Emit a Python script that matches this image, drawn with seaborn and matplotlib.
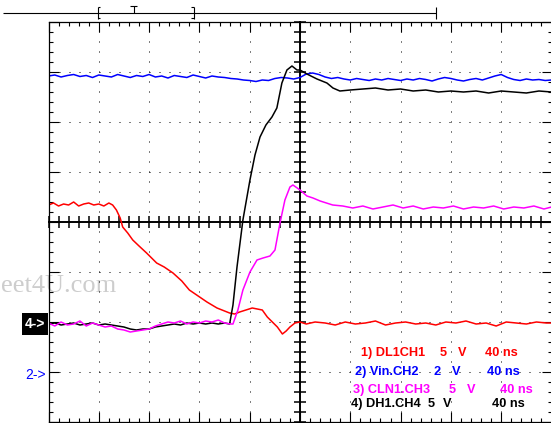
import numpy as np
import pandas as pd
import matplotlib
matplotlib.use("Agg")
import matplotlib.pyplot as plt
import seaborn as sns
from matplotlib.lines import Line2D
from matplotlib.patches import Rectangle
from matplotlib.ticker import MultipleLocator

# ---------------- data (time in ns from left edge, values in volts) ----------------
ch1_t = [0, 4, 8, 12, 16, 20, 24, 28, 32, 36, 40, 44, 48, 51, 54,
         57, 59, 63, 67, 72, 78, 86, 92, 99, 106, 112, 119, 126, 134, 140, 144,
         148, 152, 157, 162, 166, 170, 174, 178, 182, 186, 189, 192, 196, 200,
         205, 212, 220, 228, 236, 244, 252, 260, 268, 276, 284, 292, 300, 308,
         316, 324, 332, 340, 348, 356, 364, 372, 380, 388, 396, 400]
ch1_v = [11.9, 12.1, 11.8, 12.0, 11.9, 12.2, 11.8, 12.0, 12.1, 11.9, 12.0, 11.8, 12.1, 11.9, 11.4,
         10.6, 9.7, 9.1, 8.4, 7.8, 7.1, 6.1, 5.7, 5.1, 4.3, 3.4, 2.8, 2.2, 1.6, 1.3, 1.1,
         1.0, 1.2, 1.4, 1.6, 1.5, 1.4, 0.7, 0.2, -0.3, -1.0, -0.7, -0.3, 0.1, 0.2,
         0.0, 0.2, 0.1, -0.1, 0.2, 0.0, 0.1, 0.3, -0.1, 0.1, 0.2, 0.0, 0.1, -0.1,
         0.2, 0.1, 0.3, 0.0, 0.1, -0.2, 0.2, 0.1, 0.0, 0.2, 0.1, 0.1]

ch2_t = [0, 5, 10, 15, 20, 25, 30, 35, 40, 45, 50, 55, 60, 65, 70, 75, 80, 85, 90, 95,
         100, 105, 110, 115, 120, 125, 130, 135, 140, 145, 150, 155, 160, 165, 170, 175,
         180, 185, 190, 195, 200, 205, 210, 215, 220, 225, 230, 235, 240, 245, 250, 255,
         260, 265, 270, 275, 280, 285, 290, 295, 300, 305, 310, 315, 320, 325, 330, 335,
         340, 345, 350, 355, 360, 365, 370, 375, 380, 385, 390, 395, 400]
ch2_v = [11.96, 12.0, 11.92, 11.98, 12.02, 11.94, 11.98, 11.9, 12.0, 11.96, 11.92, 12.02,
         11.96, 11.9, 11.98, 11.94, 12.02, 11.92, 11.96, 11.88, 11.98, 11.94, 11.9, 12.0,
         11.94, 11.88, 11.96, 11.92, 11.9, 11.86, 11.84, 11.8, 11.78, 11.74, 11.8, 11.78,
         11.86, 11.9, 11.88, 11.84, 11.9, 12.04, 12.08, 12.02, 11.92, 11.86, 11.9, 11.84,
         11.8, 11.86, 11.82, 11.78, 11.84, 11.8, 11.86, 11.82, 11.78, 11.84, 11.8, 11.86,
         11.82, 11.76, 11.84, 11.9, 11.86, 11.8, 11.76, 11.82, 11.86, 11.8, 11.88, 11.96,
         12.02, 11.9, 11.82, 11.78, 11.84, 11.8, 11.82, 11.78, 11.8]

ch3_t = [0, 5, 10, 15, 20, 25, 30, 35, 40, 45, 50, 55, 60, 65, 70, 75, 80, 85, 90, 95,
         100, 105, 110, 115, 120, 125, 130, 135, 140, 145, 146.7, 150.6, 154.6, 160.2,
         165.8, 170.6, 176.1, 180.1, 184.1, 188, 192, 194.4, 200, 205.5, 210.3, 216, 226,
         234, 242, 250, 258, 266, 274, 282, 290, 298, 306, 314, 322, 330, 338, 346, 354,
         362, 370, 378, 386, 394, 400]
ch3_v = [0.1, -0.2, 0.2, -0.1, 0.0, 0.3, -0.2, 0.1, -0.1, -0.3, -0.2, -0.5, -0.6, -0.8,
         -0.7, -0.6, -0.5, -0.2, 0.0, 0.2, 0.1, 0.3, 0.0, 0.2, 0.1, 0.3, 0.2, 0.4, 0.1, 0.0,
         0.0, 1.4, 3.4, 5.2, 6.4, 6.6, 6.8, 7.4, 10.1, 12.4, 13.7, 13.9, 13.4, 12.8, 12.6,
         12.3, 11.9, 11.8, 11.6, 11.8, 11.5, 11.7, 11.9, 11.6, 11.8, 11.5, 11.7, 11.6, 11.8,
         11.5, 11.7, 11.6, 11.8, 11.5, 11.7, 11.6, 11.8, 11.5, 11.7]

ch4_t = [0, 5, 10, 15, 20, 25, 30, 35, 40, 45, 50, 55, 60, 65, 70, 75, 80, 85, 90, 95,
         100, 105, 110, 115, 120, 125, 130, 135, 140, 144, 144.3, 146.7, 149.9, 154.6,
         160.2, 164.2, 168.2, 172.9, 177.7, 181.6, 185.6, 189.6, 193.6, 197.6, 200, 205.5,
         213.5, 221.4, 226.2, 231.7, 240, 250, 260, 270, 280, 290, 300, 310, 320, 330, 340,
         350, 360, 370, 380, 390, 400]
ch4_v = [0.0, 0.1, -0.1, 0.0, 0.1, -0.1, 0.0, 0.1, -0.1, 0.0, -0.1, -0.2, -0.3, -0.5,
         -0.6, -0.5, -0.5, -0.3, -0.2, -0.1, 0.0, -0.1, 0.1, 0.0, 0.1, 0.0, 0.1, 0.0, 0.1,
         0.0, 0.2, 1.9, 5.7, 10.4, 14.4, 16.9, 18.7, 19.9, 20.7, 21.6, 24.1, 25.4, 25.8,
         25.4, 25.4, 25.0, 24.5, 24.1, 23.6, 23.3, 23.4, 23.5, 23.6, 23.4, 23.5, 23.3, 23.4,
         23.2, 23.3, 23.2, 23.3, 23.1, 23.3, 23.2, 23.1, 23.3, 23.2]

ch_names = ["DL1CH1", "Vin.CH2", "CLN1.CH3", "DH1.CH4"]
ch_volts_per_div = [5, 2, 5, 5]
ch_ground_div = [-2.04, -3.06, -2.04, -2.04]
ch_colors = ["#ff0000", "#0000ff", "#ff00ff", "#000000"]
timebase_label = "40 ns"

# ---------------- figure ----------------
sns.set_style("white")
plt.rcParams["font.family"] = ["Liberation Sans", "DejaVu Sans"]

W_PX, H_PX = 551, 423
fig = plt.figure(figsize=(W_PX / 100, H_PX / 100), dpi=100)
fig.patch.set_facecolor("white")


def fx(px):
    return px / W_PX


def fy(py):
    return 1 - py / H_PX


L, R, T, B = 48.5, 551.5, 22, 422
pos = [fx(L), fy(B), (R - L) / W_PX, (B - T) / H_PX]

# graticule centre cross
ax2 = fig.add_axes(pos)
ax2.set_zorder(1)
ax2.patch.set_visible(False)
ax2.set_xlim(0, 400)
ax2.set_ylim(-4, 4)
ax2.spines["left"].set_position(("data", 200))
ax2.spines["bottom"].set_position(("data", 0))
ax2.spines["top"].set_visible(False)
ax2.spines["right"].set_visible(False)
for s in ("left", "bottom"):
    ax2.spines[s].set_linewidth(1.4)
    ax2.spines[s].set_color("black")
ax2.xaxis.set_major_locator(MultipleLocator(40))
ax2.xaxis.set_minor_locator(MultipleLocator(8))
ax2.yaxis.set_major_locator(MultipleLocator(1))
ax2.yaxis.set_minor_locator(MultipleLocator(0.2))
ax2.tick_params(which="both", direction="inout", length=8, width=1.1, color="black",
                labelbottom=False, labelleft=False, top=False, right=False,
                bottom=True, left=True)
ax2.grid(False)

# main axes with traces
ax = fig.add_axes(pos)
ax.set_zorder(2)
ax.patch.set_visible(False)

traces = [(ch1_t, ch1_v), (ch2_t, ch2_v), (ch4_t, ch4_v), (ch3_t, ch3_v)]
order = [0, 1, 3, 2]
for (t, v), idx in zip(traces, order):
    df = pd.DataFrame({"t": t, "v": v})
    df["div"] = df["v"] / ch_volts_per_div[idx] + ch_ground_div[idx]
    sns.lineplot(data=df, x="t", y="div", ax=ax, color=ch_colors[idx], lw=1.1,
                 estimator=None, sort=False, legend=False)

ax.set_xlim(0, 400)
ax.set_ylim(-4, 4)
ax.set_xlabel("")
ax.set_ylabel("")
ax.xaxis.set_major_locator(MultipleLocator(40))
ax.xaxis.set_minor_locator(MultipleLocator(8))
ax.yaxis.set_major_locator(MultipleLocator(1))
ax.yaxis.set_minor_locator(MultipleLocator(0.2))
ax.tick_params(which="both", direction="in", top=True, right=True, bottom=True, left=True,
               labelbottom=False, labelleft=False, color="black", width=0.8)
ax.tick_params(which="major", length=7)
ax.tick_params(which="minor", length=3)
for s in ax.spines.values():
    s.set_linewidth(0.9)
    s.set_color("black")
ax.grid(which="major", color="black", linestyle=(0, (1, 9)), linewidth=0.72)
ax.grid(which="minor", visible=False)

# watermark
fig.text(fx(1), fy(292), "eet4U.com", ha="left", va="baseline", fontsize=19,
         family=["Liberation Serif", "DejaVu Serif"], color="#cdcdcd", zorder=0.5)

# channel legend text
rows = [
    (361, 356, "1) " + ch_names[0], 440, 458, 485),
    (355, 375, "2) " + ch_names[1], 433, 452, 487),
    (353, 393, "3) " + ch_names[2], 449, 467, 500),
    (351, 407, "4) " + ch_names[3], 428, 443, 492),
]
for i, (x0, yb, name, xs, xv, xt) in enumerate(rows):
    kw = dict(ha="left", va="baseline", fontsize=9.2, fontweight="bold",
              color=ch_colors[i], zorder=5)
    fig.text(fx(x0), fy(yb), name, **kw)
    fig.text(fx(xs), fy(yb), str(ch_volts_per_div[i]), **kw)
    fig.text(fx(xv), fy(yb), "V", **kw)
    fig.text(fx(xt), fy(yb), timebase_label, **kw)

# channel reference markers
fig.add_artist(Rectangle((fx(22), fy(335)), (48 - 22) / W_PX, (335 - 313) / H_PX,
                         transform=fig.transFigure, facecolor="black", edgecolor="none",
                         zorder=4))
fig.text(fx(35), fy(324), "4->", ha="center", va="center", fontsize=10,
         fontweight="bold", color="white", zorder=5)
fig.text(fx(35), fy(375), "2->", ha="center", va="center", fontsize=10,
         color="#0000ff", zorder=5)

# top trigger / record bar
def seg(x0, y0, x1, y1, lw=0.8):
    fig.add_artist(Line2D([fx(x0), fx(x1)], [fy(y0), fy(y1)], transform=fig.transFigure,
                          color="black", lw=lw, solid_capstyle="butt"))


seg(3, 13, 436, 13)
seg(435.5, 7, 435.5, 19)
# "["
seg(97.5, 7, 97.5, 19)
seg(97.5, 7.5, 100, 7.5)
seg(97.5, 18.5, 100, 18.5)
# "]"
seg(193.5, 7, 193.5, 19)
seg(191, 7.5, 193.5, 7.5)
seg(191, 18.5, 193.5, 18.5)
# "T"
seg(130, 6.5, 137, 6.5)
seg(133.5, 6.5, 133.5, 13)

fig.savefig("out.png", dpi=100, facecolor="white")
